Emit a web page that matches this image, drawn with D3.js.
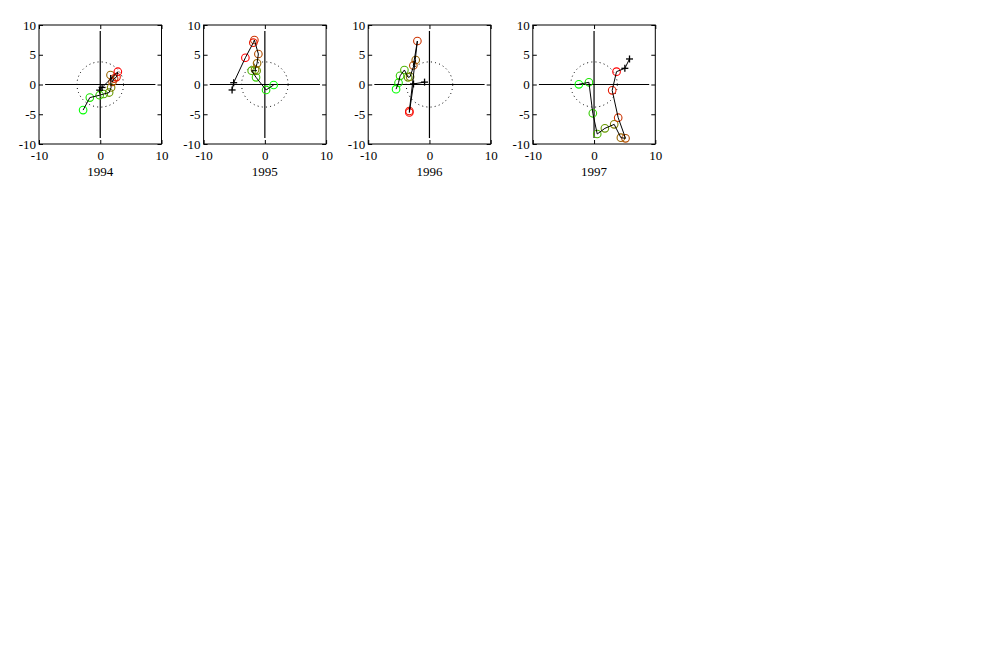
<!DOCTYPE html>
<html>
<head>
<meta charset="utf-8">
<script src="https://cdn.jsdelivr.net/npm/d3@7/dist/d3.min.js"></script>
<style>
  html, body { margin: 0; padding: 0; background: #ffffff; }
  svg { display: block; }
  text { font-family: "Liberation Serif", "Times New Roman", serif; fill: #000; }
</style>
</head>
<body>
<svg id="chart" width="1000" height="648"></svg>
<script>
// ---- data ----
const years = ["1994", "1995", "1996", "1997"];
const xTicks = [-10, 0, 10];
const yTicks = [-10, -5, 0, 5, 10];
const circleRadius = 3.8;   // dotted reference circle (data units)
const axisExtent = 9;       // cross-hair half-length (data units)

// monthly trajectory points (circles), one array per year
const traj1994X = [-2.8, -1.7, -0.1, 0.57, 1.45, 1.77, 1.67, 2.0, 2.26, 2.65, 2.87];
const traj1994Y = [-4.3, -2.2, -1.8, -1.6, -1.35, -0.5, 1.6, 0.45, 1.0, 1.25, 2.15];
const traj1995X = [1.44, 0.2, -1.44, -2.15, -1.34, -1.6, -1.27, -1.06, -1.71, -1.88, -3.18];
const traj1995Y = [-0.08, -0.92, 1.21, 2.32, 2.32, 2.5, 3.56, 5.13, 7.48, 7.03, 4.5];
const traj1996X = [-5.45, -5.05, -4.8, -4.09, -3.49, -3.16, -2.24, -2.63, -1.97, -3.28, -3.28];
const traj1996Y = [-0.78, 0.3, 1.45, 2.44, 1.21, 1.31, 4.12, 3.2, 7.31, -4.45, -4.7];
const traj1997X = [-2.48, -0.84, -0.2, 0.52, 1.77, 3.29, 4.38, 5.14, 3.94, 2.96, 3.67];
const traj1997Y = [0.03, 0.37, -4.84, -8.32, -7.37, -6.7, -8.94, -9.05, -5.58, -0.98, 2.16];

// follow-on points (crosses)
const cross1994X = [0.3, -0.1];
const cross1994Y = [-0.5, -0.95];
const cross1995X = [-5.09, -5.35];
const cross1995Y = [0.3, -0.92];
const cross1996X = [-2.6, -0.8];
const cross1996Y = [0.1, 0.4];
const cross1997X = [5.03, 5.79];
const cross1997Y = [2.72, 4.29];

const trajX = [traj1994X, traj1995X, traj1996X, traj1997X];
const trajY = [traj1994Y, traj1995Y, traj1996Y, traj1997Y];
const crossX = [cross1994X, cross1995X, cross1996X, cross1997X];
const crossY = [cross1994Y, cross1995Y, cross1996Y, cross1997Y];

// ---- layout ----
const panelLeft = 39, panelStep = 164.6, panelW = 122.5, panelTop = 25, panelH = 119;
const tickLen = 4;
const fmt = d => String(d);   // plain hyphen-minus like the original

const svg = d3.select("#chart");

years.forEach((yr, p) => {
  const g = svg.append("g")
    .attr("transform", `translate(${panelLeft + p * panelStep},${panelTop})`);

  const x = d3.scaleLinear().domain([-10, 10]).range([0, panelW]);
  const y = d3.scaleLinear().domain([-10, 10]).range([panelH, 0]);

  // axes (ticks inward, box)
  const axB = d3.axisBottom(x).tickValues(xTicks).tickFormat(fmt).tickSizeInner(-tickLen).tickSizeOuter(0).tickPadding(7);
  const axT = d3.axisTop(x).tickValues(xTicks).tickSizeInner(-tickLen).tickSizeOuter(0).tickFormat("");
  const axL = d3.axisLeft(y).tickValues(yTicks).tickFormat(fmt).tickSizeInner(-tickLen).tickSizeOuter(0).tickPadding(3);
  const axR = d3.axisRight(y).tickValues(yTicks).tickSizeInner(-tickLen).tickSizeOuter(0).tickFormat("");

  const gb = g.append("g").attr("transform", `translate(0,${panelH})`).call(axB);
  const gt = g.append("g").call(axT);
  const gl = g.append("g").call(axL);
  const gr = g.append("g").attr("transform", `translate(${panelW},0)`).call(axR);
  [gb, gt, gl, gr].forEach(a => {
    a.select(".domain").remove();
    a.selectAll("line").attr("stroke", "#000").attr("stroke-width", 1);
    a.selectAll("text")
      .style("font-family", '"Liberation Serif", "Times New Roman", serif')
      .style("font-size", "13px").attr("fill", "#000");
  });
  gb.selectAll("text").attr("dy", "0.71em");

  g.append("rect")
    .attr("x", 0).attr("y", 0).attr("width", panelW).attr("height", panelH)
    .attr("fill", "none").attr("stroke", "#000").attr("stroke-width", 1);

  // cross-hair
  g.append("line")
    .attr("x1", x(-axisExtent)).attr("x2", x(axisExtent))
    .attr("y1", y(0)).attr("y2", y(0))
    .attr("stroke", "#000").attr("stroke-width", 1.2);
  g.append("line")
    .attr("x1", x(0)).attr("x2", x(0))
    .attr("y1", y(-axisExtent)).attr("y2", y(axisExtent))
    .attr("stroke", "#000").attr("stroke-width", 1.2);

  // dotted reference circle
  const circPts = d3.range(0, 361, 3).map(a => [
    circleRadius * Math.cos(a * Math.PI / 180),
    circleRadius * Math.sin(a * Math.PI / 180)
  ]);
  g.append("path")
    .attr("d", d3.line().x(d => x(d[0])).y(d => y(d[1]))(circPts))
    .attr("fill", "none").attr("stroke", "#000").attr("stroke-width", 1)
    .attr("stroke-dasharray", "1,3.2");

  // trajectory
  const tx = trajX[p], ty = trajY[p], cx = crossX[p], cy = crossY[p];
  const pts = tx.map((v, i) => ({ x: v, y: ty[i], i }));
  const crossPts = cx.map((v, i) => ({ x: v, y: cy[i] }));
  const color = d3.scaleLinear().domain([0, pts.length - 1])
    .range(["#00ff00", "#ff0000"]).interpolate(d3.interpolateRgb);

  g.selectAll("circle.m").data(pts).enter().append("circle")
    .attr("class", "m")
    .attr("cx", d => x(d.x)).attr("cy", d => y(d.y)).attr("r", 3.8)
    .attr("fill", "none").attr("stroke", d => color(d.i)).attr("stroke-width", 1.1);

  const path = pts.map(d => [d.x, d.y]).concat(crossPts.map(d => [d.x, d.y]));
  g.append("path")
    .attr("d", d3.line().x(d => x(d[0])).y(d => y(d[1]))(path))
    .attr("fill", "none").attr("stroke", "#000").attr("stroke-width", 1);

  crossPts.forEach(d => {
    const px = x(d.x), py = y(d.y);
    g.append("line").attr("x1", px - 3.5).attr("x2", px + 3.5).attr("y1", py).attr("y2", py)
      .attr("stroke", "#000").attr("stroke-width", 1.3);
    g.append("line").attr("x1", px).attr("x2", px).attr("y1", py - 3.5).attr("y2", py + 3.5)
      .attr("stroke", "#000").attr("stroke-width", 1.3);
  });

  // year label
  g.append("text")
    .attr("x", x(0)).attr("y", panelH + 32)
    .attr("text-anchor", "middle")
    .style("font-size", "13px")
    .text(yr);
});
</script>
</body>
</html>
